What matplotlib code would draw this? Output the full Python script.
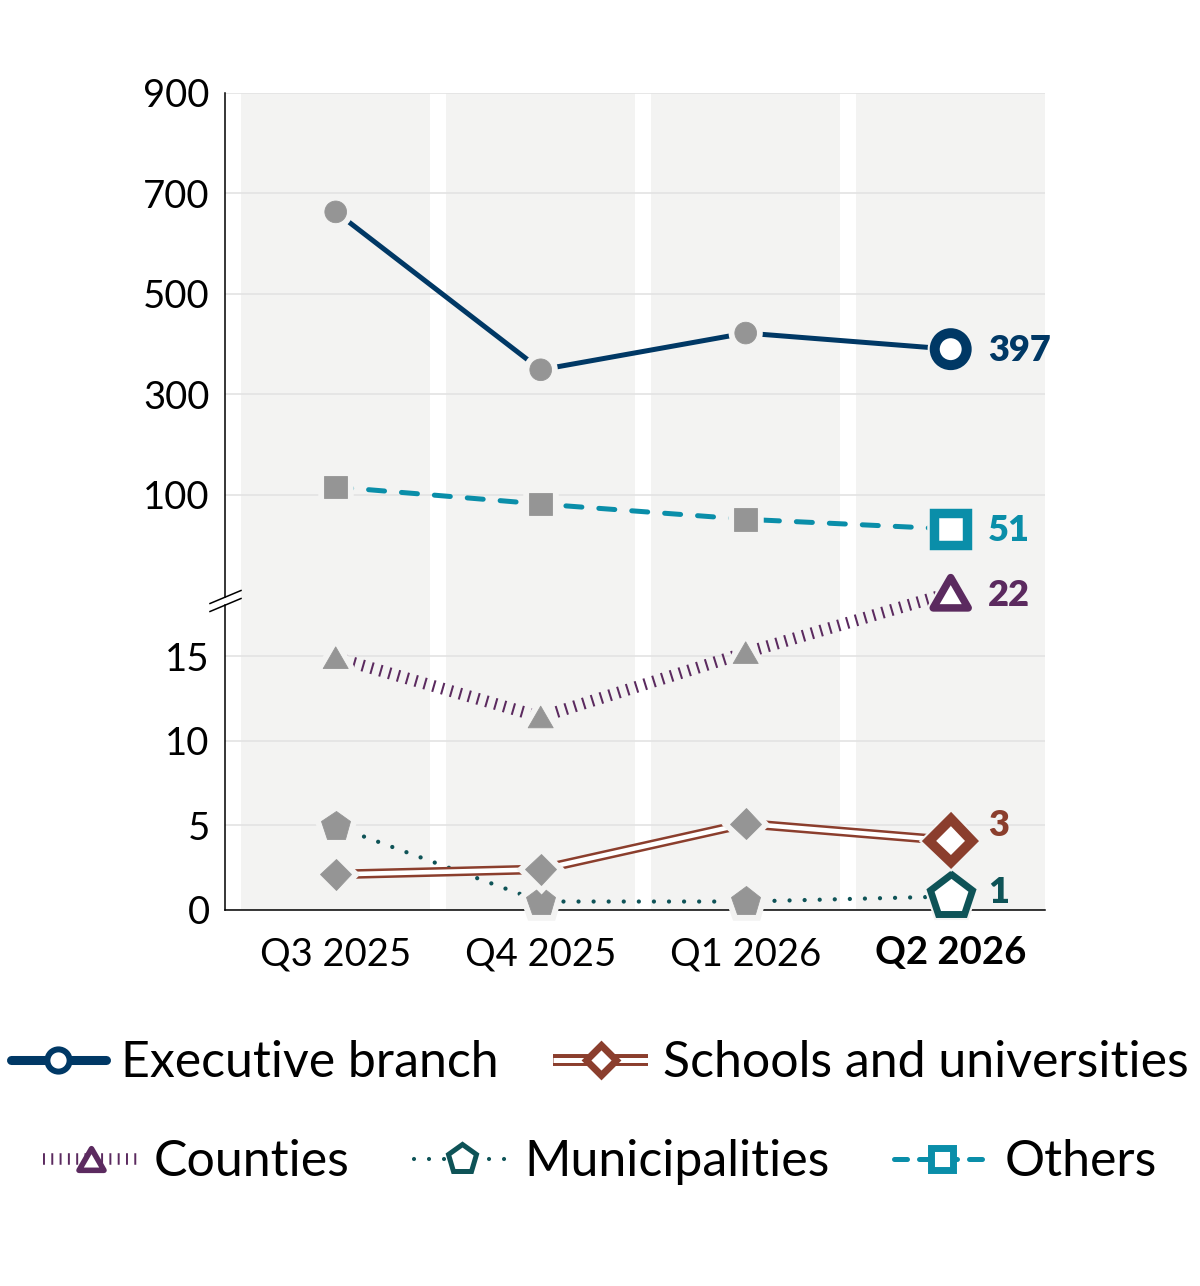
import numpy as np
import matplotlib
matplotlib.use("Agg")
import matplotlib.pyplot as plt
from matplotlib.lines import Line2D
from matplotlib.path import Path
from matplotlib.markers import MarkerStyle
from matplotlib.legend_handler import HandlerTuple
import matplotlib.patheffects as pe

plt.rcParams['font.family'] = ['Lato', 'DejaVu Sans']

# ---------------- data ----------------
quarters = ['Q3 2025', 'Q4 2025', 'Q1 2026', 'Q2 2026']
executive = [663, 349, 422, 390]
schools = [2.1, 2.4, 5.1, 4.1]
counties = [14.9, 11.4, 15.2, 22]
municipalities = [4.95, 0.5, 0.5, 0.8]
others = [116, 87, 65, 51]
end_labels = ['397', '3', '22', '1', '51']
series_names = ['Executive branch', 'Schools and universities', 'Counties',
                'Municipalities', 'Others']
y_ticks = [0, 5, 10, 15, 100, 300, 500, 700, 900]

# ---------------- broken (piecewise) y scale ----------------
SCALE_DATA = [0, 18.25, 51, 100, 900]
SCALE_POS = [0, 309, 381, 415, 817.3]
BREAK = 18.25

def fwd(v):
    return np.interp(v, SCALE_DATA, SCALE_POS)

def inv(p):
    return np.interp(p, SCALE_POS, SCALE_DATA)

# ---------------- styles ----------------
EXEC = '#003865'
SCHOOLS = '#8b3e2d'
COUNTIES = '#5b2a5f'
MUNI = '#0e5357'
OTHERS = '#0a8ea9'
GRAY = '#959595'
BAND = '#f3f3f2'
GRID = '#e3e3e3'

TRI = MarkerStyle(Path([(0, 0.866), (-1, -0.866), (1, -0.866), (0, 0.866)],
                       [Path.MOVETO, Path.LINETO, Path.LINETO, Path.CLOSEPOLY]),
                  joinstyle='miter')

fig = plt.figure(figsize=(12, 12.86), dpi=100)
ax = fig.add_axes([0.1875, 0.29238, 0.68333, 0.63554])
ax.set_yscale('function', functions=(fwd, inv))
ax.set_ylim(0, 900)
x = np.arange(len(quarters))
ax.set_xlim(-0.54, 3.46)

for i in x:
    ax.axvspan(i - 0.46, i + 0.46, color=BAND, lw=0, zorder=0.1)

ax.set_axisbelow('line')
ax.grid(axis='y', color=GRID, lw=1.2)
ax.grid(axis='x', visible=False)

series = [
    dict(y=municipalities, color=MUNI, lw=3.1, ls=(0, (0.001, 3.5)), cap='round',
         gm='p', gms=22, fm='p', fms=31.7, fmew=5.0, pe=None),
    dict(y=schools, color=SCHOOLS, lw=6.9, ls='-', cap='butt',
         gm='D', gms=15.6, fm='D', fms=21.6, fmew=7.2,
         pe=[pe.Normal(), pe.Stroke(linewidth=3.3, foreground='white')]),
    dict(y=counties, color=COUNTIES, lw=8.6, ls=(0, (0.17, 0.6)), cap='butt',
         gm=TRI, gms=18, fm=TRI, fms=25.2, fmew=5.4, pe=None),
    dict(y=others, color=OTHERS, lw=3.6, ls=(0, (3.2, 3.4)), cap='round',
         gm='s', gms=16.3, fm='s', fms=23.6, fmew=6.8, pe=None),
    dict(y=executive, color=EXEC, lw=3.6, ls='-', cap='butt',
         gm='o', gms=15.6, fm='o', fms=23, fmew=7.2, pe=None),
]

for s in series:
    ln, = ax.plot(x, s['y'], color=s['color'], lw=s['lw'], ls=s['ls'],
                  dash_capstyle=s['cap'], solid_capstyle=s['cap'], zorder=3)
    if s['pe']:
        ln.set_path_effects(s['pe'])

for k, s in enumerate(series):
    ax.plot(x[:-1], s['y'][:-1], ls='none', marker=s['gm'], ms=s['gms'],
            mfc=GRAY, mec=GRAY, mew=0.6, zorder=4 + k * 0.01, clip_on=False,
            path_effects=[pe.Stroke(linewidth=9, foreground=BAND), pe.Normal()])

for k, s in enumerate(series):
    ax.plot(x[-1:], s['y'][-1:], ls='none', marker=s['fm'], ms=s['fms'],
            mfc='white', mec=s['color'], mew=s['fmew'], zorder=5 + k * 0.01,
            clip_on=False,
            path_effects=[pe.Stroke(linewidth=s['fmew'] + 3, foreground=BAND),
                          pe.Normal()])

# end labels
label_order = [executive, schools, counties, municipalities, others]
label_colors = [EXEC, SCHOOLS, COUNTIES, MUNI, OTHERS]
label_dy = [-1, 11, -2, 3, -1]
for vals, txt, c, dy in zip(label_order, end_labels, label_colors, label_dy):
    ax.annotate(txt, xy=(x[-1], vals[-1]), xytext=(27, dy), textcoords='offset points',
                ha='left', va='center', fontsize=26, fontweight='heavy', color=c,
                annotation_clip=False, zorder=6)

# axes / ticks
ax.set_yticks(y_ticks)
ax.set_yticklabels([str(t) for t in y_ticks])
ax.set_xticks(x)
ax.set_xticklabels(quarters)
ax.get_xticklabels()[-1].set_fontweight('bold')
ax.tick_params(axis='y', length=0, pad=11, labelsize=27.5, labelcolor='black')
ax.tick_params(axis='x', length=0, pad=19, labelsize=27.5, labelcolor='black')
for sp in ['left', 'top', 'right']:
    ax.spines[sp].set_visible(False)
ax.spines['bottom'].set_color('black')
ax.spines['bottom'].set_linewidth(1.1)
ax.spines['bottom'].set_zorder(3.5)

# left spine with a break
H = 817.3
W = 820.0
yb = fwd(BREAK) / fwd(900)
gap = 4.0 / H
ax.plot([0, 0], [0, yb - gap], transform=ax.transAxes, color='black', lw=1.1,
        clip_on=False, zorder=3.5)
ax.plot([0, 0], [yb + gap, 1], transform=ax.transAxes, color='black', lw=1.1,
        clip_on=False, zorder=3.5)
for off in (-gap, gap):
    ax.plot([-15 / W, 16 / W], [yb + off - 6.5 / H, yb + off + 6.5 / H],
            transform=ax.transAxes, color='black', lw=1.1, clip_on=False, zorder=3.5)

# legend
def line_handle(color, lw, ls, cap, pe_list=None):
    h = Line2D([], [], color=color, lw=lw, ls=ls, dash_capstyle=cap,
               solid_capstyle=cap)
    if pe_list:
        h.set_path_effects(pe_list)
    return h

def mark_handle(m, color, ms, mew):
    return Line2D([], [], ls='none', marker=m, ms=ms, mfc='white', mec=color, mew=mew)

handles = [
    (line_handle(EXEC, 6.5, '-', 'round'), mark_handle('o', EXEC, 16, 4.3)),
    (line_handle(SCHOOLS, 8.6, '-', 'butt',
                 [pe.Normal(), pe.Stroke(linewidth=3.6, foreground='white')]),
     mark_handle('D', SCHOOLS, 15.3, 5)),
    (line_handle(COUNTIES, 8.3, (0, (0.17, 0.55)), 'butt'),
     mark_handle(TRI, COUNTIES, 18, 4)),
    (line_handle(MUNI, 3.0, (0, (0.001, 3.6)), 'round'),
     mark_handle('p', MUNI, 21, 3.6)),
    (line_handle(OTHERS, 3.6, (0, (2.6, 2.4)), 'round'),
     mark_handle('s', OTHERS, 16, 5)),
]

common = dict(loc='center', frameon=False, fontsize=36, handlelength=1.9,
              handletextpad=0.3, borderpad=0, borderaxespad=0,
              handler_map={tuple: HandlerTuple(ndivide=1)})
leg1 = fig.legend(handles[:2], series_names[:2], ncol=2, columnspacing=1.1,
                  bbox_to_anchor=(0.5, 1 - 1063 / 1286), **common)
leg2 = fig.legend(handles[2:], series_names[2:], ncol=3, columnspacing=1.3,
                  bbox_to_anchor=(0.5, 1 - 1162 / 1286), **common)

fig.savefig('out.png', dpi=100, facecolor='white')
